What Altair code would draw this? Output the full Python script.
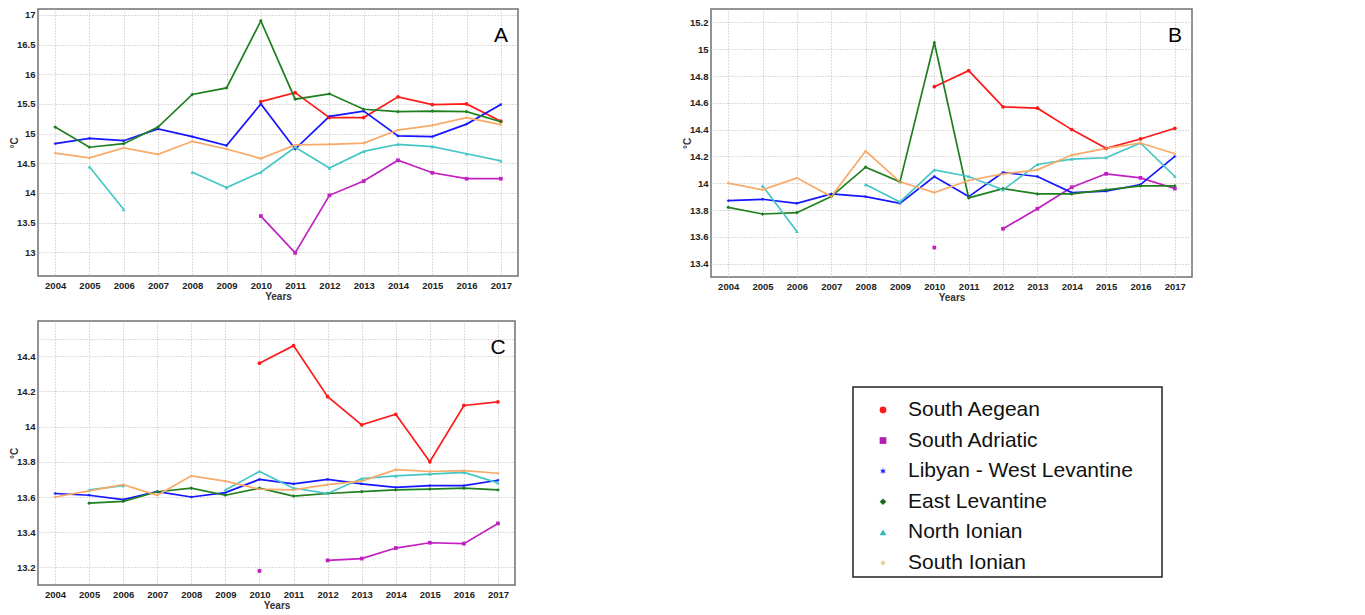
import math
import numpy as np
import pandas as pd
import altair as alt

nan = float("nan")
years = list(range(2004, 2018))
series_names = ["South Aegean", "South Adriatic", "Libyan - West Levantine",
                "East Levantine", "North Ionian", "South Ionian"]
line_colors = ["#ff1a1a", "#c020c0", "#1515ff", "#1f7f1f", "#45c6c6", "#f8aa68"]
legend_colors = ["#ff1a1a", "#b020b0", "#2020ff", "#1a6e1a", "#30b8b8", "#e6c8a0"]

# Panel A
a_south_aegean = [nan] * 6 + [15.54, 15.69, 15.27, 15.27, 15.62, 15.49, 15.50, 15.21]
a_south_adriatic = [nan] * 6 + [13.61, 12.99, 13.96, 14.20, 14.55, 14.34, 14.24, 14.24]
a_libyan = [14.83, 14.92, 14.88, 15.08, 14.95, 14.80, 15.50, 14.74, 15.29, 15.38, 14.96, 14.95, 15.16, 15.49]
a_east_lev = [15.11, 14.77, 14.83, 15.11, 15.66, 15.77, 16.90, 15.58, 15.67, 15.41, 15.37, 15.38, 15.37, 15.20]
a_north_ionian = [nan, 14.44, 13.72, nan, 14.35, 14.09, 14.35, 14.77, 14.42, 14.70, 14.82, 14.78, 14.66, 14.54]
a_south_ionian = [14.67, 14.59, 14.76, 14.65, 14.87, 14.74, 14.58, 14.81, 14.82, 14.84, 15.06, 15.14, 15.27, 15.15]
a_ticks = [13, 13.5, 14, 14.5, 15, 15.5, 16, 16.5, 17]

# Panel B
b_south_aegean = [nan] * 6 + [14.72, 14.84, 14.57, 14.56, 14.40, 14.26, 14.33, 14.41]
b_south_adriatic = [nan] * 6 + [13.52, nan, 13.66, 13.81, 13.97, 14.07, 14.04, 13.96]
b_libyan = [13.87, 13.88, 13.85, 13.92, 13.90, 13.85, 14.05, 13.90, 14.08, 14.05, 13.93, 13.94, 13.99, 14.20]
b_east_lev = [13.82, 13.77, 13.78, 13.90, 14.12, 14.01, 15.05, 13.89, 13.96, 13.92, 13.92, 13.95, 13.98, 13.98]
b_north_ionian = [nan, 13.98, 13.64, nan, 13.99, 13.86, 14.10, 14.05, 13.95, 14.14, 14.18, 14.19, 14.30, 14.05]
b_south_ionian = [14.00, 13.95, 14.04, 13.90, 14.24, 14.01, 13.93, 14.02, 14.07, 14.10, 14.21, 14.26, 14.30, 14.22]
b_ticks = [13.4, 13.6, 13.8, 14.0, 14.2, 14.4, 14.6, 14.8, 15.0, 15.2]

# Panel C
c_south_aegean = [nan] * 6 + [14.36, 14.46, 14.17, 14.01, 14.07, 13.80, 14.12, 14.14]
c_south_adriatic = [nan] * 6 + [13.18, nan, 13.24, 13.25, 13.31, 13.34, 13.335, 13.45]
c_libyan = [13.62, 13.61, 13.585, 13.63, 13.60, 13.625, 13.70, 13.675, 13.70, 13.675, 13.655, 13.665, 13.665, 13.695]
c_east_lev = [nan, 13.565, 13.575, 13.63, 13.65, 13.61, 13.65, 13.605, 13.62, 13.63, 13.64, 13.645, 13.65, 13.64]
c_north_ionian = [nan, 13.64, 13.665, nan, nan, 13.64, 13.745, 13.65, 13.62, 13.705, 13.72, 13.73, 13.74, 13.68]
c_south_ionian = [13.60, 13.635, 13.67, 13.61, 13.72, 13.69, 13.645, 13.64, 13.67, 13.69, 13.755, 13.745, 13.75, 13.735]
c_ticks = [13.2, 13.4, 13.6, 13.8, 14.0, 14.2, 14.4, 14.5]
c_hidden_labels = [14.5]

FONT = "Liberation Sans"

# 6-point star path (marker shape for the asterisk-like symbols)
pts = []
for k in range(12):
    ang = math.pi / 2 + k * math.pi / 6
    r = 1.0 if k % 2 == 0 else 0.42
    pts.append(f"{r * math.cos(ang):.3f},{-r * math.sin(ang):.3f}")
star = "M" + " L".join(pts) + " Z"
shapes = ["circle", "square", star, "diamond", "triangle-up", star]


def long_df(cols):
    rows = []
    for name, vals in zip(series_names, cols):
        seg = 0
        prev_valid = False
        for y, v in zip(years, vals):
            valid = not (v is None or (isinstance(v, float) and math.isnan(v)))
            if valid:
                if not prev_valid:
                    seg += 1
                rows.append({"year": y, "value": v, "series": name, "seg": f"{name}-{seg}"})
            prev_valid = valid
    return pd.DataFrame(rows)


color_scale = alt.Scale(domain=series_names, range=line_colors)
shape_scale = alt.Scale(domain=series_names, range=shapes)


def panel(cols, ticks, domain, letter, w, h, hidden=()):
    df = long_df(cols)
    x = alt.X("year:Q", scale=alt.Scale(domain=[2003.5, 2017.5], nice=False, zero=False),
              axis=alt.Axis(values=years, format="d", title="Years", labelPadding=4,
                            titlePadding=2, labelOverlap=False, labelFlush=False,
                            labelSeparation=0))
    label_expr = "datum.label"
    for hv in hidden:
        label_expr = f"abs(datum.value - {hv}) < 0.001 ? '' : " + label_expr
    y = alt.Y("value:Q", scale=alt.Scale(domain=domain, nice=False, zero=False),
              axis=alt.Axis(values=ticks, format="~g", title="°C", labelPadding=3,
                            titlePadding=1, minExtent=0, labelOverlap=False,
                            labelFlush=False, labelSeparation=0, titleX=-19,
                            labelExpr=label_expr))
    base = alt.Chart(df)
    lines = base.mark_line(strokeWidth=1.7, clip=True).encode(
        x=x, y=y,
        color=alt.Color("series:N", scale=color_scale, legend=None),
        detail="seg:N",
    )
    points = base.mark_point(filled=True, size=14, opacity=1).encode(
        x=x, y=y,
        color=alt.Color("series:N", scale=color_scale, legend=None),
        shape=alt.Shape("series:N", scale=shape_scale, legend=None),
    )
    lab = alt.Chart(pd.DataFrame({"t": [letter]})).mark_text(
        font=FONT, fontSize=21, color="#000", align="center", baseline="middle"
    ).encode(text="t:N", x=alt.value(w - 17), y=alt.value(27))
    return alt.layer(lines, points, lab).properties(width=w, height=h)


A = panel([a_south_aegean, a_south_adriatic, a_libyan, a_east_lev, a_north_ionian, a_south_ionian],
          a_ticks, [12.6, 17.1], "A", 480, 267)
B = panel([b_south_aegean, b_south_adriatic, b_libyan, b_east_lev, b_north_ionian, b_south_ionian],
          b_ticks, [13.3, 15.3], "B", 481, 268)
C = panel([c_south_aegean, c_south_adriatic, c_libyan, c_east_lev, c_north_ionian, c_south_ionian],
          c_ticks, [13.1, 14.6], "C", 477, 264, hidden=c_hidden_labels)

# Legend panel
leg_df = pd.DataFrame({"series": series_names, "idx": list(range(len(series_names)))})
ly = alt.Y("idx:Q", scale=alt.Scale(domain=[-0.75, 5.46], reverse=True, nice=False, zero=False),
           axis=None)
leg_box = alt.Chart(pd.DataFrame({"a": [0]})).mark_rect(
    fill="white", stroke="#222", strokeWidth=1.5
).encode(x=alt.value(142), x2=alt.value(451), y=alt.value(0), y2=alt.value(190))
leg_pts = alt.Chart(leg_df).mark_point(filled=True, size=45, opacity=1).encode(
    x=alt.value(172), y=ly,
    color=alt.Color("series:N", scale=alt.Scale(domain=series_names, range=legend_colors), legend=None),
    shape=alt.Shape("series:N", scale=shape_scale, legend=None),
)
leg_txt = alt.Chart(leg_df).mark_text(
    font=FONT, fontSize=21, color="#111", align="left", baseline="middle"
).encode(x=alt.value(197), y=ly, text="series:N")
L = alt.layer(leg_box, leg_pts, leg_txt).properties(
    width=481, height=190, view=alt.ViewBackground(stroke="transparent")
).resolve_scale(color="independent")

left = alt.vconcat(A, C, spacing=17)
right = alt.vconcat(B, L, spacing=81)

chart = alt.hconcat(left, right, spacing=162).resolve_scale(
    color="independent", shape="independent"
).properties(
    padding={"left": 0, "top": 0, "right": 0, "bottom": 0}
).configure_view(
    stroke="#707070", strokeWidth=1.5
).configure_axis(
    labelFont=FONT, labelFontWeight="bold", labelFontSize=9.5, labelColor="#222",
    titleFont=FONT, titleFontWeight="bold", titleFontSize=10, titleColor="#333",
    grid=True, gridColor="#b8b8b8", gridDash=[1, 2], gridWidth=1,
    domain=False, ticks=False, labelOverlap=False,
)

chart.save("out.html", embed_options={"renderer": "svg", "actions": False})
